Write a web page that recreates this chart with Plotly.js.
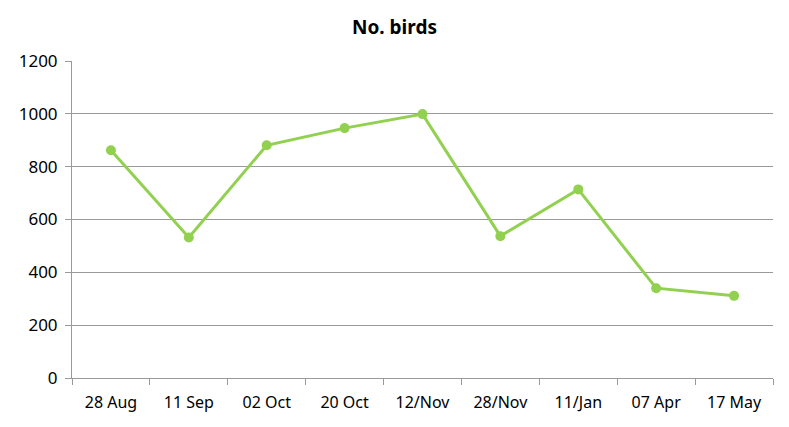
<!DOCTYPE html>
<html>
<head>
<meta charset="utf-8">
<script src="https://cdn.plot.ly/plotly-3.0.1.min.js"></script>
<style>html,body{margin:0;padding:0;background:#fff;}#chart{width:789px;height:427px;}</style>
</head>
<body>
<div id="chart"></div>
<script>
const categories = ["28 Aug", "11 Sep", "02 Oct", "20 Oct", "12/Nov", "28/Nov", "11/Jan", "07 Apr", "17 May"];
const birds = [862, 532, 881, 946, 999, 537, 714, 340, 311];
const yTicks = [0, 200, 400, 600, 800, 1000, 1200];

const trace = {
  x: categories,
  y: birds,
  type: "scatter",
  mode: "lines+markers",
  line: {color: "#92D050", width: 3},
  marker: {color: "#92D050", size: 10},
  hoverinfo: "x+y"
};

const layout = {
  width: 789,
  height: 427,
  margin: {l: 72, r: 16, t: 61, b: 49},
  paper_bgcolor: "#ffffff",
  plot_bgcolor: "#ffffff",
  showlegend: false,
  font: {family: "Noto Sans, Open Sans, sans-serif", size: 16, color: "#000"},
  title: {text: "<b>No. birds</b>", x: 0.5, xanchor: "center", y: 0.937, yanchor: "middle",
          font: {family: "Noto Sans, sans-serif", size: 19, color: "#000"}},
  xaxis: {
    type: "category",
    tickson: "boundaries",
    ticks: "outside",
    ticklen: 6,
    tickcolor: "#9a9a9a",
    showline: true,
    linecolor: "#9a9a9a",
    linewidth: 1,
    showgrid: false,
    zeroline: false,
    tickfont: {size: 16, family: "Noto Sans, sans-serif"},
    ticklabelstandoff: 10,
    range: [-0.5, categories.length - 0.5],
    fixedrange: true
  },
  yaxis: {
    range: [0, 1200],
    tickvals: yTicks,
    ticktext: yTicks.map(String),
    ticks: "outside",
    ticklen: 6,
    tickcolor: "#9a9a9a",
    showline: true,
    linecolor: "#9a9a9a",
    linewidth: 1,
    showgrid: true,
    gridcolor: "#9a9a9a",
    gridwidth: 1,
    zeroline: false,
    tickfont: {size: 17, family: "Noto Sans, sans-serif"},
    ticklabelstandoff: 4,
    fixedrange: true
  }
};

Plotly.newPlot("chart", [trace], layout, {displayModeBar: false, staticPlot: true});
</script>
</body>
</html>
